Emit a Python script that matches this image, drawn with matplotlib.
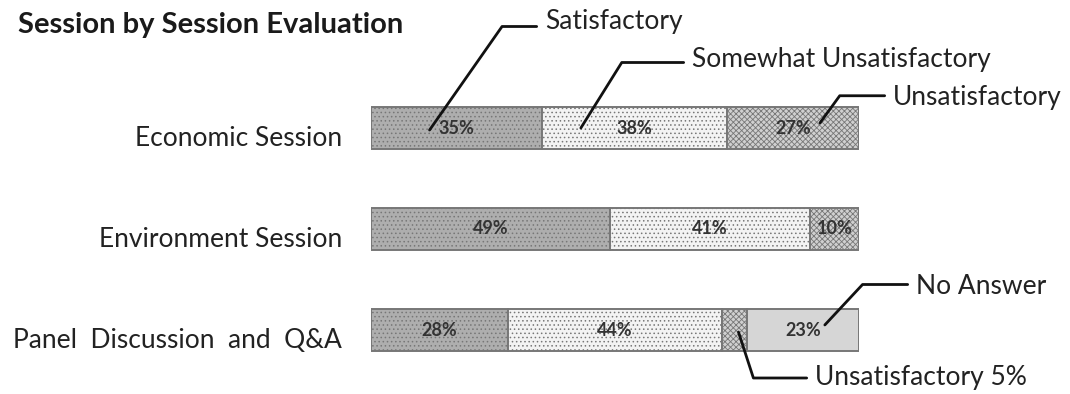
import matplotlib.pyplot as plt
import matplotlib.transforms as mtrans
import numpy as np

plt.rcParams['font.family'] = ['Lato', 'DejaVu Sans']
plt.rcParams['hatch.linewidth'] = 0.6

sessions = ["Economic Session", "Environment Session", "Panel  Discussion  and  Q&A"]
categories = ["Satisfactory", "Somewhat Unsatisfactory", "Unsatisfactory", "No Answer"]
satisfactory = [35, 49, 28]
somewhat = [38, 41, 44]
unsatisfactory = [27, 10, 5]
no_answer = [0, 0, 23]

series = [satisfactory, somewhat, unsatisfactory, no_answer]
fills = ["#aeaeae", "#f3f3f3", "#d0d0d0", "#d6d6d6"]
hatches = ["....", "....", "xxxxxx", None]

fig = plt.figure(figsize=(10.7, 3.94), dpi=100)
ax = fig.add_axes([371 / 1070, 3.4 / 394, 488 / 1070, 323.2 / 394])

y = np.arange(len(sessions))
left = np.zeros(len(sessions))
for vals, fc, h in zip(series, fills, hatches):
    vals = np.array(vals)
    ax.barh(y, vals, left=left, height=0.41, color=fc, edgecolor="#777777",
            linewidth=1.4, hatch=h)
    for yi, (l, v) in enumerate(zip(left, vals)):
        if v >= 10:
            ax.text(l + v / 2, yi, f"{v}%", ha="center", va="center",
                    fontsize=13, fontweight="bold", color="#333333")
    left = left + vals

ax.set_xlim(0, 100)
ax.set_ylim(2.6, -0.6)
ax.set_yticks(y)
ax.set_yticklabels(sessions, fontsize=19, color="#222222")
ax.tick_params(axis="y", length=0, pad=21)
ax.set_xticks([])
for s in ax.spines.values():
    s.set_visible(False)
for lab in ax.get_yticklabels():
    lab.set_transform(lab.get_transform() + mtrans.ScaledTranslation(0, -0.08, fig.dpi_scale_trans))

fig.text(18 / 1070, 1 - 25 / 394, "Session by Session Evaluation", fontsize=21,
         fontweight="bold", ha="left", va="center", color="#1a1a1a")


# leader labels
def leader(text, xy, txt_px, angle, rel):
    ax.annotate(text, xy=xy, xycoords="data", xytext=txt_px,
                textcoords="figure pixels", ha="left", va="center",
                fontsize=19, color="#222222",
                arrowprops=dict(arrowstyle="-", color="#111111", lw=2.0,
                                relpos=(0, rel), shrinkA=4, shrinkB=0,
                                connectionstyle=f"angle,angleA=0,angleB={angle},rad=0"))


leader(categories[0], (12, 0.02), (545, 394 - 21), 55, 0.28)
leader(categories[1], (43, 0.0), (692, 394 - 59), 58, 0.36)
leader("Unsatisfactory", (92, -0.05), (893, 394 - 97), 54, 0.55)
leader(categories[3], (93, 1.95), (916, 394 - 287), 47, 0.6)
leader("Unsatisfactory 5%", (75.3, 2.02), (815, 394 - 378), -72, 0.5)

fig.savefig("out.png", dpi=100)
